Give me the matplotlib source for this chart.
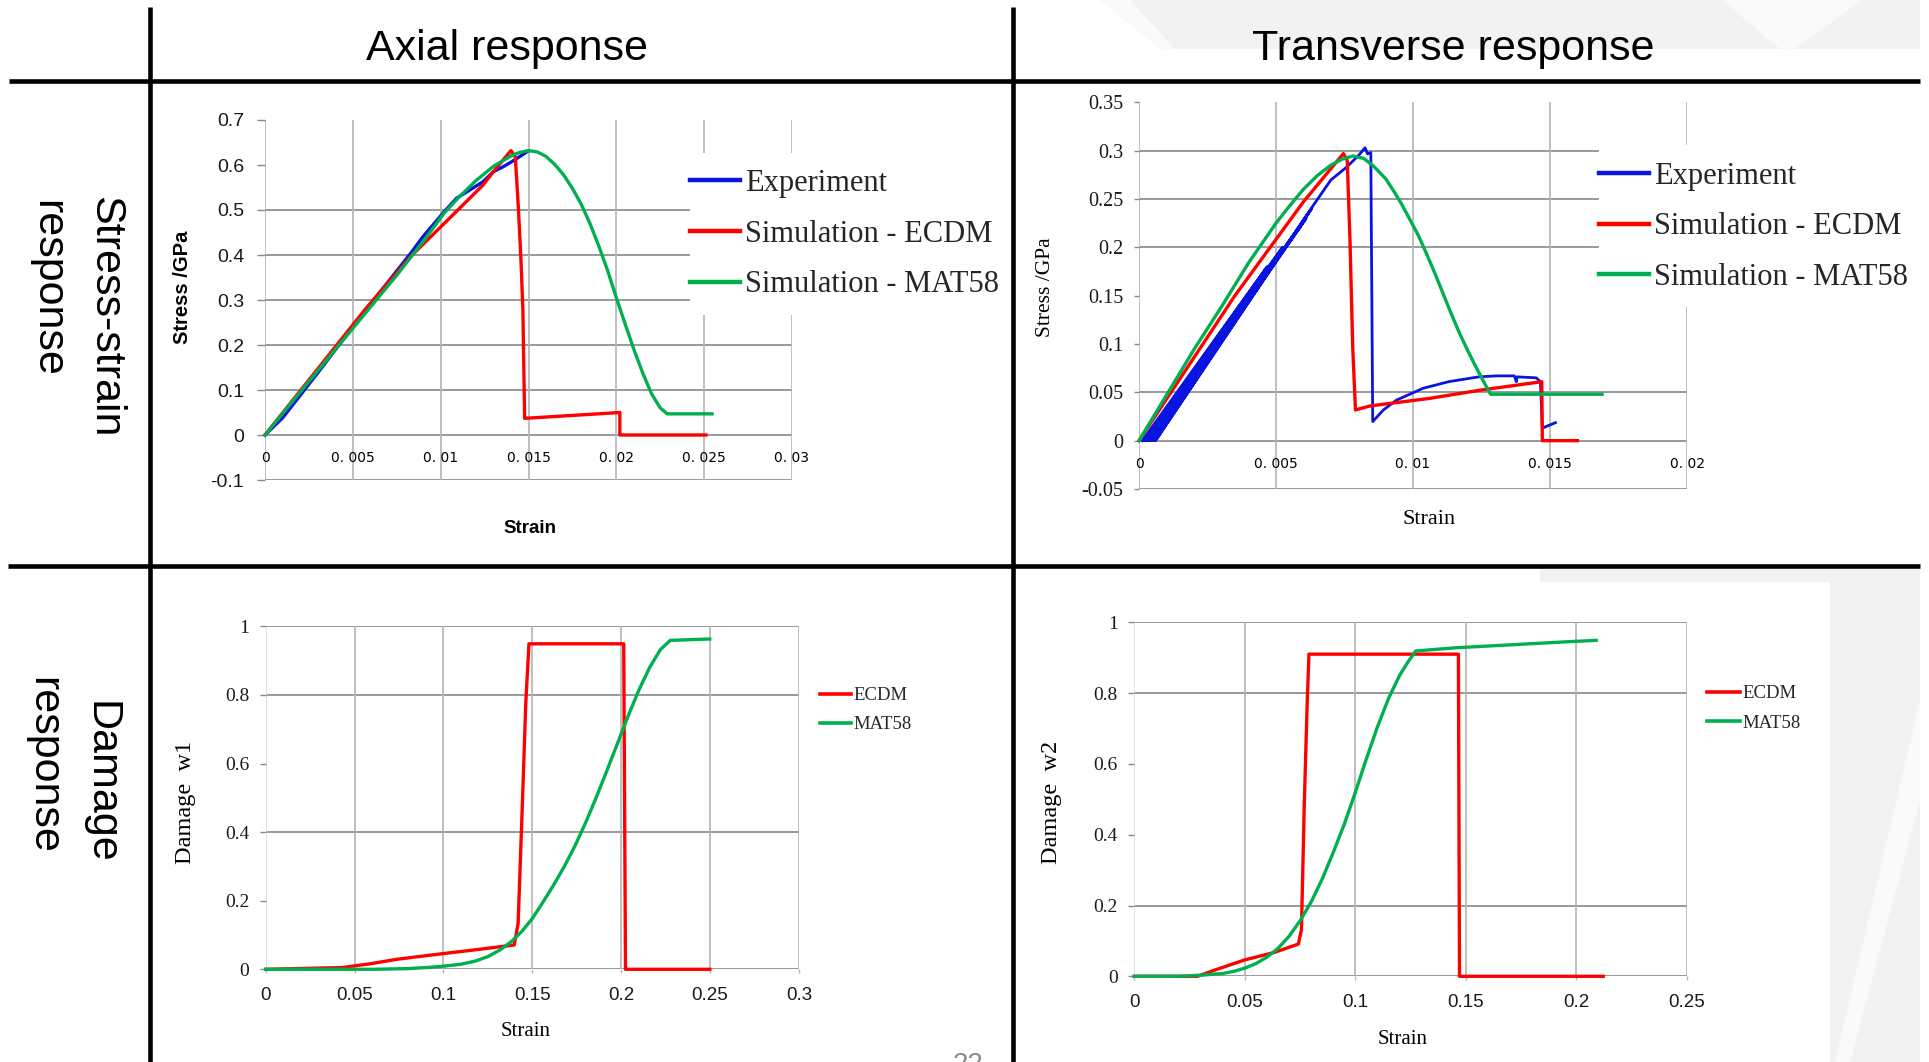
import matplotlib
matplotlib.use("Agg")
import matplotlib.pyplot as plt
from matplotlib.lines import Line2D
from matplotlib.patches import Rectangle, Polygon

W, H = 1929, 1062

SERIF = ["Liberation Serif", "DejaVu Serif"]
SANS = ["Liberation Sans", "DejaVu Sans"]

BLUE = "#0a14e0"
RED = "#ff0000"
GREEN = "#00b050"
HGRID = "#878787"
VGRID = "#b4b4b4"
TXT = "#1a1a1a"

# ---- axial stress-strain ----
ax_exp_strain = [0, 0.001, 0.003, 0.0057, 0.0083, 0.0090, 0.0102, 0.0109, 0.0124, 0.0130, 0.0136, 0.0142, 0.0149]
ax_exp_stress = [0, 0.038, 0.138, 0.276, 0.404, 0.441, 0.496, 0.526, 0.5625, 0.585, 0.597, 0.611, 0.629]
ax_ecdm_strain = [0, 0.0057, 0.0083, 0.0102, 0.0124, 0.0131, 0.0140, 0.01425, 0.01443, 0.01457,
                  0.01468, 0.01478, 0.0202, 0.0202, 0.0251]
ax_ecdm_stress = [0, 0.279, 0.397, 0.470, 0.555, 0.590, 0.632, 0.618, 0.50, 0.39,
                  0.279, 0.037, 0.050, 0.0, 0.0]
ax_m58_strain = [0, 0.0025, 0.005, 0.0075, 0.0090, 0.0102, 0.0110, 0.0120, 0.0130, 0.0140, 0.0145,
                 0.0150, 0.0155, 0.0160, 0.0165, 0.0170, 0.0175, 0.0180, 0.0185, 0.0190, 0.0195,
                 0.0200, 0.0205, 0.0210, 0.0215, 0.0220, 0.0225, 0.0229, 0.02545]
ax_m58_stress = [0, 0.119, 0.237, 0.355, 0.430, 0.493, 0.527, 0.565, 0.597, 0.620, 0.628,
                 0.632, 0.629, 0.619, 0.601, 0.578, 0.548, 0.513, 0.470, 0.420, 0.366,
                 0.305, 0.247, 0.190, 0.138, 0.092, 0.060, 0.047, 0.047]

# ---- transverse stress-strain (cyclic test) ----
tr_exp_strain = [0.00012, 0.00468, 0.00018, 0.00524, 0.00025, 0.00557, 0.00032, 0.0059,
                 0.0004, 0.0061, 0.00047, 0.0062, 0.00054, 0.0063, 0.0006, 0.0064,
                 0.0070, 0.00758, 0.00803, 0.00825, 0.00834, 0.00846, 0.00853, 0.00892, 0.0094,
                 0.01037, 0.0113, 0.0124, 0.01305, 0.0137, 0.01377, 0.0138, 0.0145, 0.01465,
                 0.01472, 0.0152]
tr_exp_stress = [0, 0.18, 0, 0.20, 0, 0.21, 0, 0.222,
                 0, 0.23, 0, 0.236, 0, 0.24, 0, 0.245,
                 0.2696, 0.283, 0.2955, 0.303, 0.2966, 0.298, 0.0197, 0.0318, 0.042,
                 0.0542, 0.061, 0.066, 0.067, 0.067, 0.061, 0.066, 0.065, 0.061,
                 0.013, 0.0186]
tr_ecdm_strain = [0, 0.0035, 0.0060, 0.00746, 0.0076, 0.0077, 0.0078, 0.0079, 0.00843,
                  0.01062, 0.0124, 0.0147, 0.01472, 0.0160]
tr_ecdm_stress = [0, 0.150, 0.247, 0.297, 0.29, 0.2076, 0.097, 0.0318, 0.0359,
                  0.0438, 0.052, 0.061, 0.0, 0.0]
tr_m58_strain = [0, 0.001, 0.002, 0.003, 0.004, 0.005, 0.0055, 0.006, 0.0065, 0.007, 0.0074, 0.0078,
                 0.0082, 0.00856, 0.009, 0.0093, 0.0096, 0.0099, 0.0102, 0.0105, 0.0108, 0.0111,
                 0.0114, 0.0117, 0.012, 0.0123, 0.0126, 0.01283, 0.0169]
tr_m58_stress = [0, 0.047, 0.094, 0.138, 0.184, 0.225, 0.243, 0.260, 0.274, 0.285, 0.291, 0.2945,
                 0.292, 0.284, 0.271, 0.258, 0.244, 0.228, 0.212, 0.193, 0.173, 0.152,
                 0.131, 0.111, 0.093, 0.076, 0.060, 0.048, 0.048]

# ---- axial damage w1 ----
w1_ecdm_strain = [0, 0.0428, 0.0582, 0.0736, 0.089, 0.1044, 0.1198, 0.1321, 0.1398, 0.142,
                  0.1444, 0.1463, 0.1481, 0.2014, 0.2024, 0.2498]
w1_ecdm = [0, 0.005, 0.0156, 0.029, 0.039, 0.0486, 0.058, 0.066, 0.071, 0.134,
           0.484, 0.776, 0.949, 0.949, 0.0, 0.0]
w1_m58_strain = [0, 0.06, 0.08, 0.09, 0.1, 0.11, 0.118, 0.125, 0.132, 0.138, 0.144, 0.15, 0.156,
                 0.162, 0.168, 0.174, 0.18, 0.186, 0.192, 0.198, 0.204, 0.21, 0.216, 0.222,
                 0.2276, 0.2498]
w1_m58 = [0, 0, 0.002, 0.005, 0.009, 0.015, 0.024, 0.037, 0.057, 0.08, 0.11, 0.148, 0.196,
          0.246, 0.300, 0.360, 0.428, 0.502, 0.58, 0.66, 0.74, 0.815, 0.88, 0.932,
          0.959, 0.963]

# ---- transverse damage w2 ----
w2_ecdm_strain = [0, 0.0286, 0.0366, 0.0498, 0.0631, 0.0742, 0.0756, 0.0769, 0.0782, 0.079,
                  0.1466, 0.1471, 0.2121]
w2_ecdm = [0, 0, 0.018, 0.046, 0.067, 0.091, 0.131, 0.489, 0.771, 0.91, 0.91, 0.0, 0.0]
w2_m58_strain = [0, 0.02, 0.03, 0.04, 0.045, 0.05, 0.055, 0.06, 0.065, 0.07, 0.075, 0.08, 0.085,
                 0.09, 0.095, 0.1, 0.105, 0.11, 0.115, 0.12, 0.124, 0.1273, 0.1453, 0.1691,
                 0.1957, 0.2089]
w2_m58 = [0, 0, 0.003, 0.008, 0.014, 0.023, 0.036, 0.054, 0.079, 0.113, 0.157, 0.21, 0.275,
          0.35, 0.43, 0.52, 0.615, 0.705, 0.785, 0.85, 0.89, 0.919, 0.928, 0.936,
          0.945, 0.949]

# ticks
tl_xticks = [0, 0.005, 0.01, 0.015, 0.02, 0.025, 0.03]
tl_xlabels = ["0", "0. 005", "0. 01", "0. 015", "0. 02", "0. 025", "0. 03"]
tl_yticks = [-0.1, 0, 0.1, 0.2, 0.3, 0.4, 0.5, 0.6, 0.7]
tl_ylabels = ["-0.1", "0", "0.1", "0.2", "0.3", "0.4", "0.5", "0.6", "0.7"]
tr_xticks = [0, 0.005, 0.01, 0.015, 0.02]
tr_xlabels = ["0", "0. 005", "0. 01", "0. 015", "0. 02"]
tr_yticks = [-0.05, 0, 0.05, 0.1, 0.15, 0.2, 0.25, 0.3, 0.35]
tr_ylabels = ["-0.05", "0", "0.05", "0.1", "0.15", "0.2", "0.25", "0.3", "0.35"]
bl_xticks = [0, 0.05, 0.1, 0.15, 0.2, 0.25, 0.3]
bl_xlabels = ["0", "0.05", "0.1", "0.15", "0.2", "0.25", "0.3"]
br_xticks = [0, 0.05, 0.1, 0.15, 0.2, 0.25]
br_xlabels = ["0", "0.05", "0.1", "0.15", "0.2", "0.25"]
d_yticks = [0, 0.2, 0.4, 0.6, 0.8, 1]
d_ylabels = ["0", "0.2", "0.4", "0.6", "0.8", "1"]

fig = plt.figure(figsize=(W / 100, H / 100), dpi=100)


def fx(x):
    return x / W


def fy(y):
    return 1 - y / H


def panel(x0, x1, ytop, ybot, xlim, ylim):
    ax = fig.add_axes([fx(x0), fy(ybot), fx(x1) - fx(x0), fy(ytop) - fy(ybot)])
    ax.set_xlim(xlim)
    ax.set_ylim(ylim)
    ax.set_facecolor("none")
    for s in ax.spines.values():
        s.set_visible(False)
    return ax


def grid(ax, hl, vl, axis_color):
    for y in hl:
        ax.axhline(y, color=HGRID, lw=1.2, zorder=0.5)
    for x in vl:
        ax.axvline(x, color=VGRID, lw=1.2, zorder=0.5)
    ax.axvline(0, color=axis_color, lw=1.2, zorder=0.5)


def add_box(x0, x1, ytop, ybot):
    fig.add_artist(Rectangle((fx(x0), fy(ybot)), fx(x1) - fx(x0), fy(ytop) - fy(ybot),
                             transform=fig.transFigure, facecolor="white", edgecolor="none", zorder=1))


def legend(handles, labels, x, y, size, hl, lsp):
    fig.legend(handles, labels, loc="upper left", bbox_to_anchor=(fx(x), fy(y)),
               bbox_transform=fig.transFigure, frameon=False, borderpad=0, borderaxespad=0,
               handlelength=hl, handletextpad=0.15, labelspacing=lsp,
               prop={"family": SERIF, "size": size}, labelcolor="#262626")


# background watermark
gray_shapes = [
    [(1107, 0), (1920, 0), (1920, 49), (1165, 49)],
    [(1540, 566), (1920, 566), (1920, 1062), (1830, 1062), (1830, 582), (1540, 582)],
]
for pts in gray_shapes:
    fig.add_artist(Polygon([(fx(a), fy(b)) for a, b in pts], closed=True, transform=fig.transFigure,
                           facecolor="#f2f2f2", edgecolor="none", zorder=-2))
white_shapes = [
    [(1722, 0), (1862, 0), (1795, 49), (1780, 49)],
    [(1100, 0), (1130, 0), (1175, 49), (1160, 49)],
    [(1920, 700), (1920, 800), (1850, 1062), (1835, 1062)],
]
for pts in white_shapes:
    fig.add_artist(Polygon([(fx(a), fy(b)) for a, b in pts], closed=True, transform=fig.transFigure,
                           facecolor="#fafafa", edgecolor="none", zorder=-1))

# ---------------- axial stress-strain ----------------
a1 = panel(265, 792, 120, 480, (0, 0.03), (-0.1, 0.7))
grid(a1, [0.5, 0.4, 0.3, 0.2, 0.1, 0, -0.1], [0.005, 0.01, 0.015, 0.02, 0.025, 0.03], VGRID)
a1.plot(ax_exp_strain, ax_exp_stress, color=BLUE, lw=2.4, clip_on=False)
a1.plot(ax_ecdm_strain, ax_ecdm_stress, color=RED, lw=2.4, clip_on=False)
a1.plot(ax_m58_strain, ax_m58_stress, color=GREEN, lw=2.4, clip_on=False)
a1.set_yticks(tl_yticks, tl_ylabels, fontsize=14, fontfamily=SANS, color=TXT)
a1.set_xticks(tl_xticks, tl_xlabels, fontsize=14, fontfamily=SERIF, color=TXT)
a1.spines["bottom"].set_position(("data", 0))
a1.tick_params(axis="x", length=0, pad=11.5)
a1.tick_params(axis="y", length=5.5, width=1, color=HGRID, pad=9.5)
a1.set_ylabel("Stress /GPa", fontsize=14.5, fontweight="bold", fontfamily=SANS, va="center", ha="center")
a1.yaxis.set_label_coords(fx(183), fy(287), transform=fig.transFigure)
a1.set_xlabel("Strain", fontsize=13.5, fontweight="bold", fontfamily=SANS, va="center", ha="center")
a1.xaxis.set_label_coords(fx(530), fy(528), transform=fig.transFigure)
add_box(690, 1008, 153, 315)

# ---------------- transverse stress-strain ----------------
a2 = panel(1139, 1687, 102.3, 489, (0, 0.02), (-0.05, 0.35))
grid(a2, [0.3, 0.25, 0.2, 0.05, 0, -0.05], [0.005, 0.01, 0.015, 0.02], VGRID)
a2.plot(tr_exp_strain, tr_exp_stress, color=BLUE, lw=2.0, clip_on=False)
a2.plot(tr_ecdm_strain, tr_ecdm_stress, color=RED, lw=2.4, clip_on=False)
a2.plot(tr_m58_strain, tr_m58_stress, color=GREEN, lw=2.4, clip_on=False)
a2.set_yticks(tr_yticks, tr_ylabels, fontsize=14.5, fontfamily=SERIF, color=TXT)
a2.set_xticks(tr_xticks, tr_xlabels, fontsize=14.5, fontfamily=SERIF, color=TXT)
a2.spines["bottom"].set_position(("data", 0))
a2.tick_params(axis="x", length=0, pad=11.5)
a2.tick_params(axis="y", length=3.4, width=1, color=HGRID, pad=8)
a2.set_ylabel("Stress /GPa", fontsize=15.5, fontfamily=SERIF, va="center", ha="center")
a2.yaxis.set_label_coords(fx(1046), fy(287), transform=fig.transFigure)
a2.set_xlabel("Strain", fontsize=16, fontfamily=SERIF, va="center", ha="center")
a2.xaxis.set_label_coords(fx(1429), fy(519), transform=fig.transFigure)
add_box(1599, 1918, 145, 307)

# ---------------- axial damage ----------------
a3 = panel(265.7, 799, 626.3, 969.3, (0, 0.3), (0, 1))
grid(a3, [1, 0.8, 0.4, 0], [0.05, 0.1, 0.15, 0.2, 0.25, 0.3], "#dcdcdc")
a3.plot(w1_ecdm_strain, w1_ecdm, color=RED, lw=2.4, clip_on=False)
a3.plot(w1_m58_strain, w1_m58, color=GREEN, lw=2.4, clip_on=False)
a3.set_yticks(d_yticks, d_ylabels, fontsize=14, fontfamily=SERIF, color=TXT)
a3.set_xticks(bl_xticks, bl_xlabels, fontsize=13.5, fontfamily=SANS, color=TXT)
a3.tick_params(axis="x", length=3, width=1, color=VGRID, pad=9.5)
a3.tick_params(axis="y", length=4.3, width=1, color=HGRID, pad=7.5)
a3.set_ylabel("Damage  w1", fontsize=17.5, fontfamily=SERIF, va="center", ha="center")
a3.yaxis.set_label_coords(fx(186), fy(802), transform=fig.transFigure)
a3.set_xlabel("Strain", fontsize=15, fontfamily=SERIF, va="center", ha="center")
a3.xaxis.set_label_coords(fx(526), fy(1032), transform=fig.transFigure)

# ---------------- transverse damage ----------------
a4 = panel(1134.3, 1687, 622.3, 976.3, (0, 0.25), (0, 1))
grid(a4, [1, 0.8, 0.2, 0], [0.05, 0.1, 0.15, 0.2, 0.25], "#dcdcdc")
a4.plot(w2_ecdm_strain, w2_ecdm, color=RED, lw=2.4, clip_on=False)
a4.plot(w2_m58_strain, w2_m58, color=GREEN, lw=2.4, clip_on=False)
a4.set_yticks(d_yticks, d_ylabels, fontsize=14, fontfamily=SERIF, color=TXT)
a4.set_xticks(br_xticks, br_xlabels, fontsize=13.5, fontfamily=SANS, color=TXT)
a4.tick_params(axis="x", length=3, width=1, color=VGRID, pad=9.5)
a4.tick_params(axis="y", length=4.3, width=1, color=HGRID, pad=7.5)
a4.set_ylabel("Damage  w2", fontsize=17.5, fontfamily=SERIF, va="center", ha="center")
a4.yaxis.set_label_coords(fx(1052), fy(802), transform=fig.transFigure)
a4.set_xlabel("Strain", fontsize=15, fontfamily=SERIF, va="center", ha="center")
a4.xaxis.set_label_coords(fx(1403), fy(1040), transform=fig.transFigure)

# legends
h3 = [Line2D([], [], color=c, lw=3.2) for c in (BLUE, RED, GREEN)]
lab3 = ["Experiment", "Simulation - ECDM", "Simulation - MAT58"]
legend(h3, lab3, 690, 169, 22, 1.65, 0.71)
legend(h3, lab3, 1599, 162, 22, 1.65, 0.70)
h2 = [Line2D([], [], color=c, lw=2.6) for c in (RED, GREEN)]
legend(h2, ["ECDM", "MAT58"], 820, 687, 13.5, 1.65, 0.63)
legend(h2, ["ECDM", "MAT58"], 1707, 685, 13.5, 1.75, 0.66)

# table frame
rules = [
    ((150, 150), (7, 1062)),
    ((1013, 1013), (7, 1062)),
    ((9, 1920), (81, 81)),
    ((8, 1920), (566, 566)),
]
for xs, ys in rules:
    fig.add_artist(Line2D([fx(v) for v in xs], [fy(v) for v in ys], transform=fig.transFigure,
                          color="black", lw=3.3, solid_capstyle="butt", zorder=3))

# headers
fig.text(fx(507), fy(60), "Axial response", fontsize=31, family=SANS, ha="center", va="baseline")
fig.text(fx(1453), fy(60), "Transverse response", fontsize=31, family=SANS, ha="center", va="baseline")
fig.text(fx(105), fy(317), "Stress-strain", fontsize=31, family=SANS, rotation=-90, ha="center", va="center")
fig.text(fx(47), fy(288), "response", fontsize=31, family=SANS, rotation=-90, ha="center", va="center")
fig.text(fx(100), fy(782), "Damage", fontsize=31, family=SANS, rotation=-90, ha="center", va="center")
fig.text(fx(43), fy(765), "response", fontsize=31, family=SANS, rotation=-90, ha="center", va="center")
fig.text(fx(968), fy(1052), "22", fontsize=20, family=SANS, color="#8c8c8c", ha="center", va="top")

fig.savefig("out.png", dpi=100)
